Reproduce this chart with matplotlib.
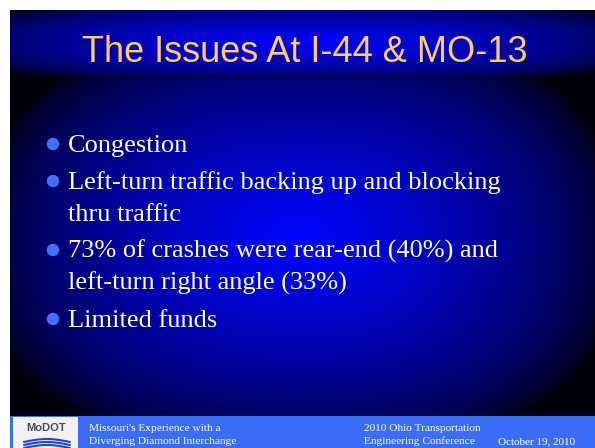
import numpy as np
import matplotlib.pyplot as plt
from matplotlib.patches import Rectangle

# ---- slide content ----
title = "The Issues At I-44 & MO-13"
bullet_items = [
    ["Congestion"],
    ["Left-turn traffic backing up and blocking", "thru traffic"],
    ["73% of crashes were rear-end (40%) and", "left-turn right angle (33%)"],
    ["Limited funds"],
]
footer_left = ["Missouri's Experience with a", "Diverging Diamond Interchange"]
footer_mid = ["2010 Ohio Transportation", "Engineering Conference"]
footer_date = "October 19, 2010"

W, H = 595, 448
fig = plt.figure(figsize=(W / 100, H / 100), dpi=100)
ax = fig.add_axes([0, 0, 1, 1])
ax.set_xlim(0, W)
ax.set_ylim(H, 0)
ax.axis("off")
fig.patch.set_facecolor("white")

# slide edges
L, T, B_TITLE, B_BODY = 10, 10, 79, 416


def glow(x0, x1, y0, y1, cx, cy, rx, ry, p, base, gamma):
    xs = np.arange(x0, x1) + 0.5
    ys = np.arange(y0, y1) + 0.5
    X, Y = np.meshgrid(xs, ys)
    d = (np.abs((X - cx) / rx) ** p + np.abs((Y - cy) / ry) ** p) ** (1 / p)
    f = np.clip(1 - d, 0, 1) ** gamma
    img = np.zeros(X.shape + (3,))
    img[..., 2] = base + (1 - base) * f
    img[..., 1] = 0.02 * f
    return img


# title band
img_t = glow(L, W, T, B_TITLE, 303, 42, 360, 42, 2.5, 0.05, 0.55)
ax.imshow(img_t, extent=(L, W, B_TITLE, T), aspect="auto", interpolation="bilinear")
# body
img_b = glow(L, W, B_TITLE, B_BODY, 300, 240, 320, 215, 2.4, 0.04, 0.6)
ax.imshow(img_b, extent=(L, W, B_BODY, B_TITLE), aspect="auto", interpolation="bilinear")

# title
ax.text(305, 62, title, color="#ffcc66", fontsize=26, family="Liberation Sans",
        ha="center", va="baseline")

# bullets
line_gap, item_gap = 32, 37
y = 152
bullet_x, text_x = 53, 68
for item in bullet_items:
    ax.scatter([bullet_x], [y - 8], s=80, color="#4070ff", edgecolors="none", zorder=3)
    for k, line in enumerate(item):
        ax.text(text_x, y, line, color="white", fontsize=19, family="Liberation Serif",
                ha="left", va="baseline")
        y += line_gap if k < len(item) - 1 else 0
    y += item_gap

# footer bar + logo
ax.add_patch(Rectangle((L, B_BODY), W - L, H - B_BODY, color="#3a6cf5", lw=0))
ax.add_patch(Rectangle((13, B_BODY + 1), 65, H - B_BODY, color="#f2f2f2", lw=0))
ax.text(46, 428, "MoDOT", color="#4a4a5e", fontsize=8, family="Liberation Sans",
        weight="bold", ha="center", va="center")
wx = np.linspace(24, 70, 40)
for off in (0, 3, 6):
    ax.plot(wx, 442 + off - 3 * np.sin((wx - 24) / 46 * np.pi),
            color="#2244cc", lw=1.5, solid_capstyle="round")

for i, s in enumerate(footer_left):
    ax.text(89, 431 + 13 * i, s, color="white", fontsize=8.2, family="Liberation Serif",
            ha="left", va="baseline")
for i, s in enumerate(footer_mid):
    ax.text(364, 431 + 13 * i, s, color="white", fontsize=8.2, family="Liberation Serif",
            ha="left", va="baseline")
ax.text(498, 444, footer_date, color="white", fontsize=8, family="Liberation Serif",
        ha="left", va="baseline")

fig.savefig("out.png", dpi=100)
